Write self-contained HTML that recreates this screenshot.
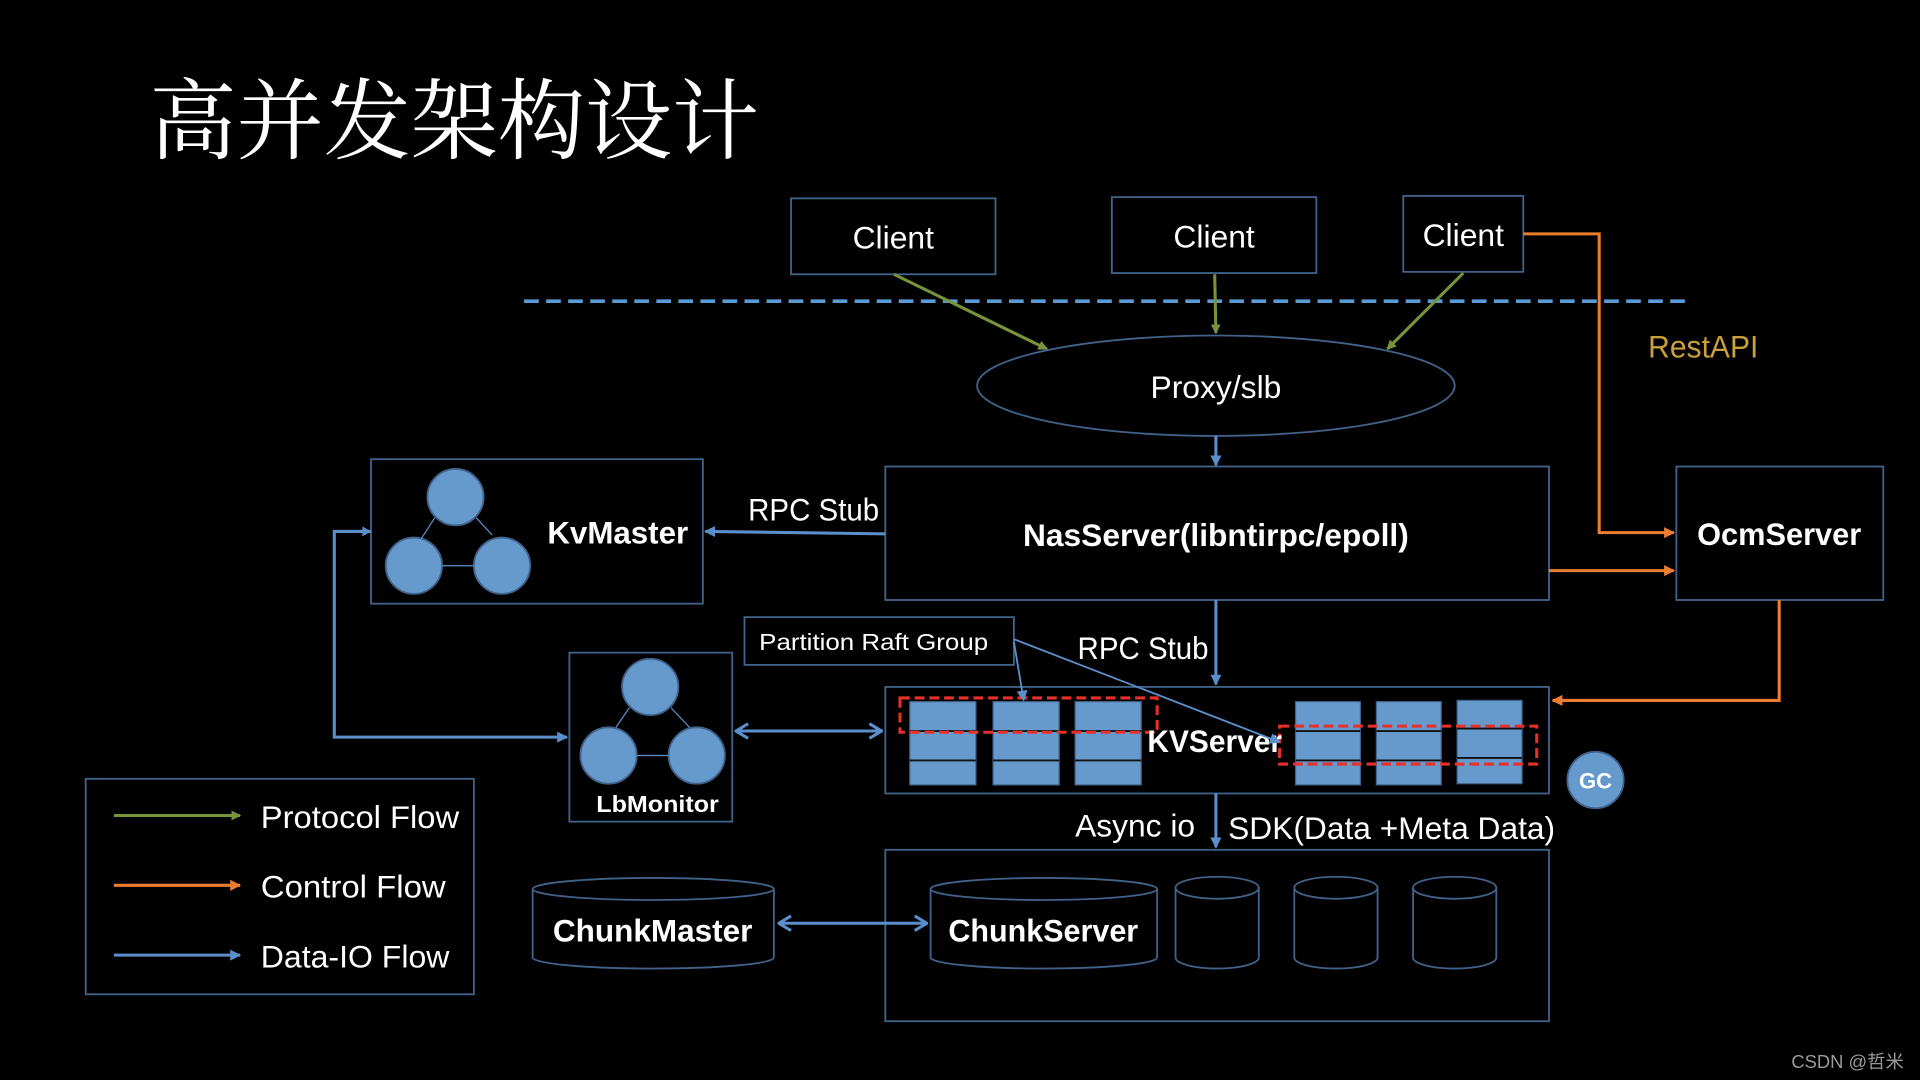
<!DOCTYPE html>
<html><head><meta charset="utf-8"><style>
html,body{margin:0;padding:0;background:#000;overflow:hidden}
svg{display:block}
text{font-family:"Liberation Sans","Noto Sans CJK SC",sans-serif;fill:#fff}
.b{font-weight:bold}
</style></head><body>
<svg width="1920" height="1080" viewBox="0 0 1568 882" xmlns="http://www.w3.org/2000/svg">
<defs>
<marker id="ag" markerWidth="8" markerHeight="8" refX="7" refY="4" orient="auto" markerUnits="userSpaceOnUse"><path d="M0,0 L8,4 L0,8 z" fill="#77933c"/></marker>
<marker id="ab" markerWidth="9" markerHeight="9" refX="8" refY="4.5" orient="auto" markerUnits="userSpaceOnUse"><path d="M0,0 L9,4.5 L0,9 z" fill="#5b8fcc"/></marker>
<marker id="ao" markerWidth="9" markerHeight="9" refX="8" refY="4.5" orient="auto" markerUnits="userSpaceOnUse"><path d="M0,0 L9,4.5 L0,9 z" fill="#ed7d31"/></marker>
<marker id="av" markerWidth="12" markerHeight="14" refX="11" refY="7" orient="auto-start-reverse" markerUnits="userSpaceOnUse"><path d="M1,1 L11,7 L1,13" fill="none" stroke="#5b8fcc" stroke-width="2.5"/></marker>
</defs>
<rect width="1568" height="882" fill="#000"/>
<text x="122" y="124" style="font-family:'Noto Serif CJK SC',serif;font-size:72px" textLength="498" lengthAdjust="spacingAndGlyphs">高并发架构设计</text>

<g fill="none" stroke="#41628a" stroke-width="1.5">
<rect x="646" y="162" width="167" height="62"/>
<rect x="908" y="161" width="167" height="62"/>
<rect x="1146" y="160" width="98" height="62"/>
<rect x="723" y="381" width="542" height="109"/>
<rect x="303" y="375" width="271" height="118"/>
<rect x="1369" y="381" width="169" height="109"/>
<rect x="723" y="561" width="542" height="87"/>
<rect x="608" y="504" width="220" height="39"/>
<rect x="465" y="533" width="133" height="138"/>
<rect x="723" y="694" width="542" height="140"/>
<rect x="70" y="636" width="317" height="176"/>
</g>
<text x="729.5" y="203" font-size="26" text-anchor="middle">Client</text>
<text x="991.5" y="202" font-size="26" text-anchor="middle">Client</text>
<text x="1195" y="201" font-size="26" text-anchor="middle">Client</text>

<line x1="428" y1="246" x2="1380" y2="246" stroke="#5b9bd5" stroke-width="3" stroke-dasharray="12 6"/>
<g stroke="#77933c" stroke-width="2.5" marker-end="url(#ag)">
<line x1="730" y1="224" x2="855" y2="285"/>
<line x1="992" y1="224" x2="993" y2="272"/>
<line x1="1195" y1="223" x2="1133" y2="285"/>
</g>
<ellipse cx="993" cy="315" rx="195" ry="41" fill="none" stroke="#41628a" stroke-width="1.5"/>
<text x="993" y="325" font-size="26" text-anchor="middle">Proxy/slb</text>
<g stroke="#5b8fcc" stroke-width="2.5" fill="none">
<line x1="993" y1="356" x2="993" y2="380" marker-end="url(#ab)"/>
<line x1="723" y1="436" x2="576" y2="434" marker-end="url(#ab)"/>
<line x1="993" y1="490" x2="993" y2="559" marker-end="url(#ab)"/>
<line x1="993" y1="648" x2="993" y2="692" marker-end="url(#ab)"/>
<path d="M303,434 L273,434 L273,602 L463,602" marker-end="url(#ab)"/>
<line x1="601" y1="597" x2="720" y2="597" marker-start="url(#av)" marker-end="url(#av)"/>
<line x1="636" y1="754" x2="757" y2="754" marker-start="url(#av)" marker-end="url(#av)"/>
</g>
<path d="M303,434 L296,430 L296,438 z" fill="#5b8fcc"/>
<text x="993" y="446" font-size="26" class="b" text-anchor="middle" textLength="315" lengthAdjust="spacingAndGlyphs">NasServer(libntirpc/epoll)</text>
<text x="611" y="425" font-size="26" textLength="107" lengthAdjust="spacingAndGlyphs">RPC Stub</text>
<text x="880" y="538" font-size="26" textLength="107" lengthAdjust="spacingAndGlyphs">RPC Stub</text>

<g fill="#6699cc" stroke="#41628a" stroke-width="1.5">
<circle cx="372" cy="406" r="23"/><circle cx="338" cy="462" r="23"/><circle cx="410" cy="462" r="23"/>
<circle cx="531" cy="561" r="23"/><circle cx="497" cy="617" r="23"/><circle cx="569" cy="617" r="23"/>
</g>
<g stroke="#5b8fcc" stroke-width="1">
<line x1="355" y1="423" x2="344" y2="440"/><line x1="389" y1="423" x2="402" y2="437"/><line x1="361" y1="462" x2="387" y2="462"/>
<line x1="514" y1="578" x2="503" y2="594"/><line x1="548" y1="578" x2="563" y2="594"/><line x1="520" y1="617" x2="546" y2="617"/>
</g>
<text x="447" y="444" font-size="26" class="b" textLength="115" lengthAdjust="spacingAndGlyphs">KvMaster</text>
<text x="537" y="663" font-size="19" class="b" text-anchor="middle" textLength="100" lengthAdjust="spacingAndGlyphs">LbMonitor</text>
<text x="1453" y="445" font-size="26" class="b" text-anchor="middle" textLength="134" lengthAdjust="spacingAndGlyphs">OcmServer</text>
<text x="1346" y="292" font-size="26" style="fill:#c9a03a" textLength="90" lengthAdjust="spacingAndGlyphs">RestAPI</text>

<g stroke="#ed7d31" stroke-width="2.5" fill="none">
<path d="M1244,191 L1306,191 L1306,435 L1367,435" marker-end="url(#ao)"/>
<line x1="1265" y1="466" x2="1367" y2="466" marker-end="url(#ao)"/>
<path d="M1453,490 L1453,572 L1268,572" marker-end="url(#ao)"/>
</g>

<text x="620" y="531" font-size="19" textLength="187" lengthAdjust="spacingAndGlyphs">Partition Raft Group</text>
<g fill="#6699cc" stroke="#41628a" stroke-width="1">
<rect x="743" y="573" width="54" height="68"/><rect x="811" y="573" width="54" height="68"/><rect x="878" y="573" width="54" height="68"/>
<rect x="1058" y="573" width="53" height="68"/><rect x="1124" y="573" width="53" height="68"/><rect x="1190" y="572" width="53" height="68"/>
</g>
<g stroke="#111" stroke-width="1.5">
<line x1="743" y1="597" x2="797" y2="597"/><line x1="743" y1="621" x2="797" y2="621"/>
<line x1="811" y1="597" x2="865" y2="597"/><line x1="811" y1="621" x2="865" y2="621"/>
<line x1="878" y1="597" x2="932" y2="597"/><line x1="878" y1="621" x2="932" y2="621"/>
<line x1="1058" y1="597" x2="1111" y2="597"/><line x1="1058" y1="621" x2="1111" y2="621"/>
<line x1="1124" y1="597" x2="1177" y2="597"/><line x1="1124" y1="621" x2="1177" y2="621"/>
<line x1="1190" y1="595" x2="1243" y2="595"/><line x1="1190" y1="619" x2="1243" y2="619"/>
</g>
<g fill="none" stroke="#e8302a" stroke-width="2.5" stroke-dasharray="8 4">
<rect x="735" y="570" width="210" height="28"/>
<rect x="1045" y="593" width="210" height="31"/>
</g>
<text x="937" y="614" font-size="26" class="b" textLength="110" lengthAdjust="spacingAndGlyphs">KVServer</text>
<g stroke="#5b8fcc" stroke-width="1.5">
<line x1="828" y1="524" x2="836" y2="572" marker-end="url(#ab)"/>
<line x1="828" y1="522" x2="1045" y2="606" marker-end="url(#ab)"/>
</g>
<circle cx="1303" cy="637" r="23" fill="#6699cc" stroke="#41628a" stroke-width="1.5"/>
<text x="1303" y="644" font-size="18" class="b" text-anchor="middle">GC</text>
<text x="878" y="683" font-size="26" textLength="98" lengthAdjust="spacingAndGlyphs">Async io</text>
<text x="1003" y="685" font-size="26" textLength="267" lengthAdjust="spacingAndGlyphs">SDK(Data +Meta Data)</text>

<g fill="#000" stroke="#41628a" stroke-width="1.5">
<path d="M435,726 L435,782 A98.5,9 0 0 0 632,782 L632,726"/><ellipse cx="533.5" cy="726" rx="98.5" ry="9"/>
<path d="M760,726 L760,782 A92.5,9 0 0 0 945,782 L945,726"/><ellipse cx="852.5" cy="726" rx="92.5" ry="9"/>
<path d="M960,725 L960,782 A34,9 0 0 0 1028,782 L1028,725"/><ellipse cx="994" cy="725" rx="34" ry="9"/>
<path d="M1057,725 L1057,782 A34,9 0 0 0 1125,782 L1125,725"/><ellipse cx="1091" cy="725" rx="34" ry="9"/>
<path d="M1154,725 L1154,782 A34,9 0 0 0 1222,782 L1222,725"/><ellipse cx="1188" cy="725" rx="34" ry="9"/>
</g>
<text x="533" y="769" font-size="26" class="b" text-anchor="middle" textLength="163" lengthAdjust="spacingAndGlyphs">ChunkMaster</text>
<text x="852" y="769" font-size="26" class="b" text-anchor="middle" textLength="155" lengthAdjust="spacingAndGlyphs">ChunkServer</text>

<line x1="93" y1="666" x2="196" y2="666" stroke="#77933c" stroke-width="2.5" marker-end="url(#ag)"/>
<line x1="93" y1="723" x2="196" y2="723" stroke="#ed7d31" stroke-width="2.5" marker-end="url(#ao)"/>
<line x1="93" y1="780" x2="196" y2="780" stroke="#5b8fcc" stroke-width="2.5" marker-end="url(#ab)"/>
<text x="213" y="676" font-size="26" textLength="162" lengthAdjust="spacingAndGlyphs">Protocol Flow</text>
<text x="213" y="733" font-size="26" textLength="151" lengthAdjust="spacingAndGlyphs">Control Flow</text>
<text x="213" y="790" font-size="26" textLength="154" lengthAdjust="spacingAndGlyphs">Data-IO Flow</text>
<text x="1463" y="872" font-size="15" style="fill:#9a9a9a">CSDN @哲米</text>
</svg>
</body></html>
